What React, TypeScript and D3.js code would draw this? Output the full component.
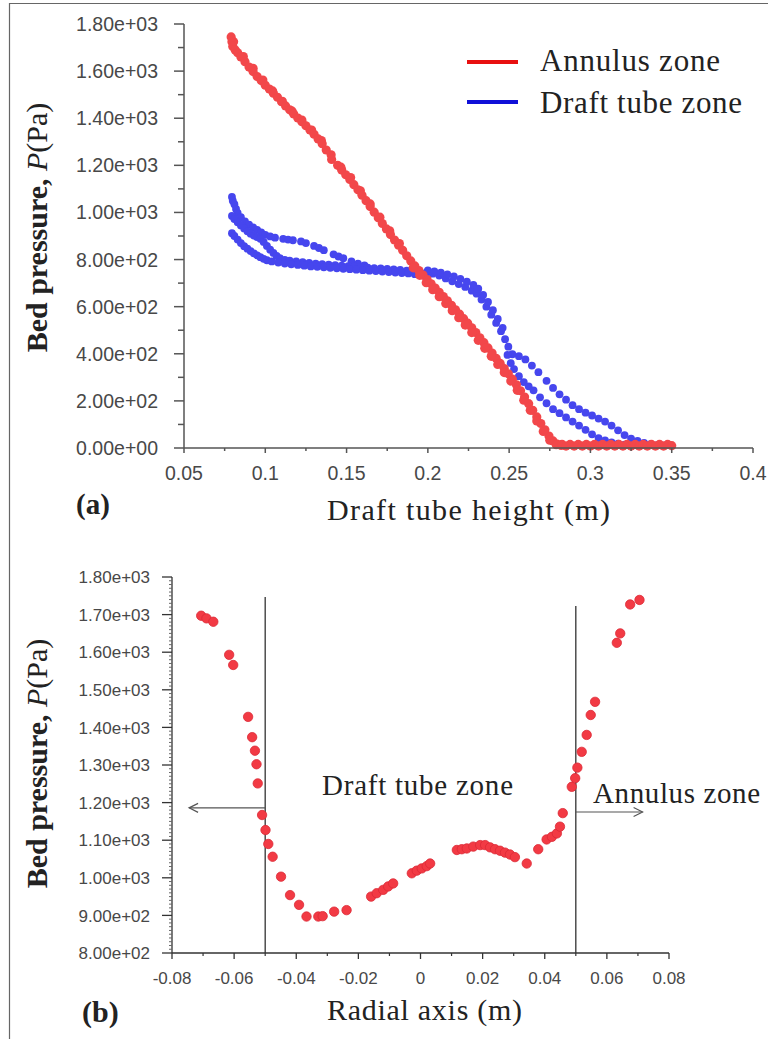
import React from "react";
import * as d3 from "d3";

// ---------- Panel (a) data ----------
const topXTicks = [0.05, 0.1, 0.15, 0.2, 0.25, 0.3, 0.35, 0.4];
const topXTickLabels = ["0.05", "0.1", "0.15", "0.2", "0.25", "0.3", "0.35", "0.4"];
const topYTicks = [0, 200, 400, 600, 800, 1000, 1200, 1400, 1600, 1800];
const topYTickLabels = ["0.00e+00", "2.00e+02", "4.00e+02", "6.00e+02", "8.00e+02", "1.00e+03", "1.20e+03", "1.40e+03", "1.60e+03", "1.80e+03"];

const legendItems = ["Annulus zone", "Draft tube zone"];

// Annulus zone (red) – main track
const annulusMain: [number, number][] = [
  [0.079, 1745], [0.0795, 1725], [0.08, 1705], [0.0815, 1690], [0.083, 1678], [0.085, 1660], [0.0875, 1640], [0.09, 1617],
  [0.0925, 1598], [0.095, 1577], [0.0975, 1560], [0.1, 1540], [0.1025, 1524], [0.105, 1506], [0.1075, 1489], [0.11, 1470],
  [0.1125, 1452], [0.115, 1436], [0.1175, 1418], [0.12, 1401], [0.1225, 1385], [0.125, 1368], [0.1275, 1350], [0.13, 1332],
  [0.1325, 1312], [0.135, 1292], [0.1375, 1265], [0.1408, 1225], [0.1445, 1200], [0.147, 1180], [0.1495, 1160], [0.152, 1140],
  [0.1545, 1118], [0.157, 1096], [0.1595, 1073], [0.162, 1050], [0.1645, 1025], [0.167, 1001], [0.1695, 977], [0.172, 953],
  [0.1745, 930], [0.177, 906], [0.1795, 883], [0.182, 861], [0.1845, 839], [0.187, 816], [0.1895, 794], [0.192, 773],
  [0.1945, 753], [0.197, 734], [0.1995, 715], [0.202, 697], [0.2045, 679], [0.207, 661], [0.2095, 643], [0.212, 625],
  [0.2145, 606], [0.217, 587], [0.2195, 568], [0.222, 549], [0.2245, 530], [0.227, 510], [0.2295, 490], [0.232, 468],
  [0.2345, 447], [0.237, 425], [0.2395, 403], [0.242, 381], [0.2445, 359], [0.247, 337], [0.2495, 315], [0.252, 292],
  [0.2545, 268], [0.257, 243], [0.2595, 216], [0.262, 188], [0.2645, 160], [0.267, 132], [0.2695, 104], [0.272, 77],
  [0.2745, 51], [0.277, 30], [0.2795, 17], [0.282, 11],
];
// Annulus zone (red) – upper parallel track (band thickness)
const annulusUpper: [number, number][] = [
  [0.0805, 1725], [0.0865, 1662], [0.0925, 1612], [0.0985, 1562], [0.1045, 1516], [0.1105, 1472], [0.1165, 1430],
  [0.1225, 1392], [0.1285, 1350], [0.1345, 1305], [0.1405, 1245], [0.1465, 1192], [0.1525, 1148], [0.1585, 1092],
  [0.1645, 1036], [0.1705, 980], [0.1765, 922], [0.1825, 868],
];
// Annulus zone (red) – lower parallel track
const annulusLower: [number, number][] = [
  [0.191, 765], [0.195, 733], [0.199, 702], [0.203, 672], [0.207, 642], [0.211, 613], [0.215, 583], [0.219, 553],
  [0.223, 522], [0.227, 490], [0.231, 457], [0.235, 423], [0.239, 389], [0.243, 355], [0.247, 320], [0.251, 284],
  [0.255, 245], [0.259, 203], [0.263, 160], [0.267, 115], [0.271, 70], [0.275, 33], [0.279, 14],
];
// Annulus zone (red) – flat tail near zero
const annulusTail: [number, number][] = [
  [0.2825, 16], [0.285, 8], [0.2875, 15], [0.29, 8], [0.2925, 15], [0.295, 8], [0.2975, 15], [0.3, 8],
  [0.3025, 15], [0.305, 8], [0.3075, 15], [0.31, 8], [0.3125, 15], [0.315, 8], [0.3175, 15], [0.32, 8],
  [0.3225, 15], [0.325, 8], [0.3275, 15], [0.33, 8], [0.3325, 15], [0.335, 8], [0.3375, 15], [0.34, 8],
  [0.3425, 15], [0.345, 8], [0.3475, 15], [0.35, 10],
];

// Draft tube zone (blue)
const draftUpper: [number, number][] = [
  [0.0795, 1066], [0.08, 1050], [0.081, 1035], [0.082, 1015], [0.083, 998], [0.085, 980], [0.0875, 962], [0.09, 948],
  [0.0925, 937], [0.095, 926], [0.0975, 915], [0.1, 905], [0.103, 898], [0.106, 893], [0.111, 888], [0.114, 885],
  [0.117, 882], [0.122, 877], [0.125, 870], [0.13, 858], [0.133, 849], [0.136, 840], [0.142, 822], [0.145, 813],
  [0.148, 806], [0.153, 792], [0.157, 783], [0.161, 775],
];
const draftMiddle: [number, number][] = [
  [0.0795, 985], [0.081, 972], [0.083, 958], [0.085, 945], [0.087, 932], [0.089, 920], [0.091, 910], [0.093, 902],
  [0.095, 895], [0.097, 888], [0.099, 875], [0.101, 858], [0.103, 842], [0.105, 828], [0.107, 815], [0.109, 806],
  [0.112, 799], [0.115, 795], [0.119, 792], [0.123, 789], [0.127, 786], [0.131, 783], [0.135, 780], [0.139, 778],
  [0.143, 776], [0.147, 774], [0.151, 772], [0.155, 770], [0.159, 768], [0.163, 766], [0.167, 764], [0.171, 762],
  [0.175, 760], [0.179, 758], [0.183, 756], [0.187, 753], [0.191, 750], [0.195, 747], [0.199, 744], [0.203, 740],
  [0.207, 732], [0.211, 720], [0.215, 708], [0.219, 696], [0.223, 684], [0.227, 668], [0.23, 655], [0.233, 630],
  [0.236, 600], [0.239, 566], [0.242, 531], [0.245, 496], [0.2475, 462], [0.2495, 430],
];
const draftLower: [number, number][] = [
  [0.0795, 912], [0.081, 900], [0.083, 885], [0.085, 870], [0.087, 857], [0.089, 846], [0.091, 836], [0.093, 826],
  [0.095, 818], [0.097, 810], [0.099, 803], [0.101, 797], [0.104, 792], [0.108, 787], [0.112, 783], [0.116, 780],
  [0.12, 777], [0.124, 774], [0.128, 771], [0.132, 769], [0.136, 767], [0.14, 765], [0.144, 763], [0.148, 761],
  [0.152, 759], [0.156, 757], [0.16, 755], [0.164, 753], [0.168, 751], [0.172, 749], [0.176, 747], [0.18, 745],
  [0.184, 743], [0.188, 741], [0.192, 738], [0.196, 735],
];
const draftBulge: [number, number][] = [
  [0.2, 754], [0.204, 750], [0.208, 744], [0.212, 737], [0.216, 728], [0.22, 718], [0.224, 706], [0.228, 692],
  [0.231, 676], [0.234, 650], [0.237, 620], [0.24, 585], [0.243, 548], [0.246, 510],
];
const draftOuter: [number, number][] = [
  [0.252, 398], [0.256, 390], [0.26, 376], [0.264, 350], [0.268, 322], [0.273, 285], [0.277, 255], [0.281, 228],
  [0.285, 205], [0.289, 182], [0.293, 165], [0.297, 150], [0.301, 138], [0.305, 125], [0.309, 112], [0.313, 95],
  [0.317, 75], [0.321, 55], [0.325, 40], [0.329, 30], [0.333, 22], [0.337, 16], [0.341, 12], [0.345, 10],
];
const draftInner: [number, number][] = [
  [0.249, 395], [0.251, 360], [0.253, 335], [0.256, 305], [0.259, 280], [0.262, 262], [0.265, 245], [0.269, 215],
  [0.273, 190], [0.277, 165], [0.281, 148], [0.285, 130], [0.289, 112], [0.293, 95], [0.297, 77], [0.301, 58],
  [0.305, 42], [0.309, 32], [0.313, 24], [0.317, 18], [0.321, 14],
];

// ---------- Panel (b) data ----------
const botXTicks = [-0.08, -0.06, -0.04, -0.02, 0, 0.02, 0.04, 0.06, 0.08];
const botXTickLabels = ["-0.08", "-0.06", "-0.04", "-0.02", "0", "0.02", "0.04", "0.06", "0.08"];
const botYTicks = [800, 900, 1000, 1100, 1200, 1300, 1400, 1500, 1600, 1700, 1800];
const botYTickLabels = ["8.00e+02", "9.00e+02", "1.00e+03", "1.10e+03", "1.20e+03", "1.30e+03", "1.40e+03", "1.50e+03", "1.60e+03", "1.70e+03", "1.80e+03"];

const radialPoints: [number, number][] = [
  [-0.0706, 1697], [-0.0689, 1690], [-0.0667, 1681], [-0.0616, 1593], [-0.0603, 1566], [-0.0555, 1428], [-0.0542, 1374],
  [-0.0533, 1338], [-0.0528, 1302], [-0.0524, 1251], [-0.051, 1167], [-0.0499, 1127], [-0.049, 1090], [-0.0476, 1056],
  [-0.0449, 1003], [-0.042, 954], [-0.0391, 928], [-0.0367, 897], [-0.0329, 897], [-0.0315, 898], [-0.0278, 910],
  [-0.0238, 914], [-0.0159, 950], [-0.0141, 959], [-0.012, 968], [-0.0104, 977], [-0.0088, 985], [-0.0028, 1012],
  [-0.0012, 1019], [0.0004, 1025], [0.002, 1031], [0.0031, 1038], [0.0117, 1074], [0.0133, 1076], [0.0149, 1078],
  [0.017, 1083], [0.0192, 1087], [0.0208, 1087], [0.0224, 1081], [0.024, 1076], [0.0256, 1072], [0.0272, 1067],
  [0.0288, 1062], [0.0304, 1055], [0.0342, 1038], [0.0379, 1076], [0.0406, 1102], [0.0423, 1109], [0.0439, 1118],
  [0.0449, 1136], [0.0458, 1172], [0.0487, 1242], [0.0498, 1265], [0.0505, 1293], [0.0519, 1335], [0.0535, 1380],
  [0.0548, 1433], [0.0562, 1468], [0.0632, 1625], [0.0643, 1650], [0.0675, 1727], [0.0705, 1739],
];
const zoneBoundaries = [-0.05, 0.05];
const zoneBoundaryTops = [1747, 1723];
const zoneArrows = [
  { from: -0.05, to: -0.0745, p: 1186 },
  { from: 0.05, to: 0.0715, p: 1175 },
];

const SERIF = "'Liberation Serif', 'Times New Roman', serif";
const SANS = "'Liberation Sans', Arial, sans-serif";
const RED = "#f2474a";
const BLUE = "#4646ee";
const AXIS = "#555";
const LABEL = "#484848";

export default function App() {
  const tx = d3.scaleLinear().domain([0.05, 0.4]).range([184, 753]);
  const ty = d3.scaleLinear().domain([0, 1800]).range([448, 24]);
  const bx = d3.scaleLinear().domain([-0.08, 0.08]).range([172, 669]);
  const by = d3.scaleLinear().domain([800, 1800]).range([953, 577]);

  const topYMinor = d3.range(100, 1800, 200);
  const topXMinor = d3.range(0.075, 0.4, 0.05);
  const botYMinor = d3.range(810, 1800, 10).filter((v) => Math.round(v) % 100 !== 0);
  const botXMinor = d3.range(-0.07, 0.08, 0.02);

  const blueSets = [draftUpper, draftMiddle, draftLower, draftBulge, draftOuter, draftInner];
  const redSets = [annulusUpper, annulusMain, annulusLower, annulusTail];

  return (
    <div style={{ position: "absolute", left: 0, top: 0 }}>
      <svg width={768} height={1039} style={{ display: "block", background: "#fff" }}>
        {/* frame */}
        <line x1={9.5} y1={3} x2={9.5} y2={1039} stroke="#666" strokeWidth={1.2} />
        <line x1={9} y1={3.5} x2={768} y2={3.5} stroke="#666" strokeWidth={1.2} />

        {/* ===== Panel (a) ===== */}
        <g>
          {blueSets.map((set, si) =>
            set.map((d, i) => (
              <circle key={`b${si}-${i}`} cx={tx(d[0])} cy={ty(d[1])} r={3.9} fill={BLUE} />
            ))
          )}
          {redSets.map((set, si) =>
            set.map((d, i) => (
              <circle key={`r${si}-${i}`} cx={tx(d[0])} cy={ty(d[1])} r={4.6} fill={RED} />
            ))
          )}
          {/* axes */}
          <line x1={tx(0.05)} y1={ty(0)} x2={tx(0.05)} y2={ty(1800)} stroke={AXIS} strokeWidth={1.5} />
          <line x1={tx(0.05)} y1={ty(0)} x2={tx(0.4)} y2={ty(0)} stroke={AXIS} strokeWidth={1.5} />
          {topYTicks.map((v, i) => (
            <g key={`ty${i}`}>
              <line x1={tx(0.05) - 10} x2={tx(0.05)} y1={ty(v)} y2={ty(v)} stroke={AXIS} strokeWidth={1.5} />
              <text x={158} y={ty(v)} dy="0.36em" textAnchor="end" fontFamily={SANS} fontSize={19.5} fill={LABEL}>
                {topYTickLabels[i]}
              </text>
            </g>
          ))}
          {topYMinor.map((v, i) => (
            <line key={`tym${i}`} x1={tx(0.05) - 6} x2={tx(0.05)} y1={ty(v)} y2={ty(v)} stroke={AXIS} strokeWidth={1.5} />
          ))}
          {topXTicks.map((v, i) => (
            <g key={`tx${i}`}>
              <line x1={tx(v)} x2={tx(v)} y1={ty(0)} y2={ty(0) + 5} stroke={AXIS} strokeWidth={1.5} />
              <text x={tx(v)} y={480} textAnchor="middle" fontFamily={SANS} fontSize={19.5} fill={LABEL}>
                {topXTickLabels[i]}
              </text>
            </g>
          ))}
          {topXMinor.map((v, i) => (
            <line key={`txm${i}`} x1={tx(v)} x2={tx(v)} y1={ty(0)} y2={ty(0) + 3} stroke={AXIS} strokeWidth={1.5} />
          ))}
          {/* legend */}
          <line x1={467} x2={518} y1={62} y2={62} stroke="#e81010" strokeWidth={4} />
          <line x1={467} x2={518} y1={102} y2={102} stroke="#1010d8" strokeWidth={4} />
          <text x={540} y={71} fontFamily={SERIF} fontSize={31} fill="#222" textLength={180}>{legendItems[0]}</text>
          <text x={540} y={113} fontFamily={SERIF} fontSize={31} fill="#222" textLength={202}>{legendItems[1]}</text>
          {/* titles */}
          <text transform="translate(47,227.5) rotate(-90)" textAnchor="middle" fontFamily={SERIF} fontSize={30} fill="#222">
            <tspan fontWeight="bold">Bed pressure, </tspan>
            <tspan fontStyle="italic">P</tspan>
            <tspan>(Pa)</tspan>
          </text>
          <text x={327} y={520} fontFamily={SERIF} fontSize={30} fill="#222" textLength={283}>Draft tube height (m)</text>
          <text x={76} y={514} fontFamily={SERIF} fontSize={29} fontWeight="bold" fill="#222">(a)</text>
        </g>

        {/* ===== Panel (b) ===== */}
        <g>
          {zoneBoundaries.map((v, i) => (
            <line key={`zb${i}`} x1={bx(v)} x2={bx(v)} y1={by(zoneBoundaryTops[i])} y2={by(800)} stroke="#333" strokeWidth={1.3} />
          ))}
          {zoneArrows.map((a, i) => {
            const x0 = bx(a.from);
            const x1 = bx(a.to);
            const y = by(a.p);
            const dir = x1 < x0 ? 1 : -1;
            return (
              <g key={`za${i}`} stroke="#555" strokeWidth={1.2} fill="none">
                <line x1={x0} x2={x1} y1={y} y2={y} />
                <polyline points={`${x1 + dir * 9},${y - 4.5} ${x1},${y} ${x1 + dir * 9},${y + 4.5}`} />
              </g>
            );
          })}
          {radialPoints.map((d, i) => (
            <circle key={`rp${i}`} cx={bx(d[0])} cy={by(d[1])} r={4.7} fill="#f23a44" stroke="#dc2a36" strokeWidth={0.8} />
          ))}
          <line x1={bx(-0.08)} y1={by(800)} x2={bx(-0.08)} y2={by(1800)} stroke="#333" strokeWidth={1.3} />
          <line x1={bx(-0.08)} y1={by(800)} x2={bx(0.08)} y2={by(800)} stroke="#333" strokeWidth={1.3} />
          {botYTicks.map((v, i) => (
            <g key={`by${i}`}>
              <line x1={bx(-0.08) - 10} x2={bx(-0.08)} y1={by(v)} y2={by(v)} stroke="#333" strokeWidth={1.3} />
              <text x={150} y={by(v)} dy="0.36em" textAnchor="end" fontFamily={SANS} fontSize={17} fill={LABEL}>
                {botYTickLabels[i]}
              </text>
            </g>
          ))}
          {botYMinor.map((v, i) => (
            <line key={`bym${i}`} x1={bx(-0.08) - 3} x2={bx(-0.08)} y1={by(v)} y2={by(v)} stroke="#666" strokeWidth={1} />
          ))}
          {botXTicks.map((v, i) => (
            <g key={`bx${i}`}>
              <line x1={bx(v)} x2={bx(v)} y1={by(800)} y2={by(800) + 6} stroke="#333" strokeWidth={1.3} />
              <text x={bx(v)} y={984} textAnchor="middle" fontFamily={SANS} fontSize={17} fill={LABEL}>
                {botXTickLabels[i]}
              </text>
            </g>
          ))}
          {botXMinor.map((v, i) => (
            <line key={`bxm${i}`} x1={bx(v)} x2={bx(v)} y1={by(800)} y2={by(800) + 3} stroke="#333" strokeWidth={1.2} />
          ))}
          <text x={322} y={795} fontFamily={SERIF} fontSize={29} fill="#222" textLength={191}>Draft tube zone</text>
          <text x={593} y={803} fontFamily={SERIF} fontSize={29} fill="#222" textLength={167}>Annulus zone</text>
          <text transform="translate(47,763.5) rotate(-90)" textAnchor="middle" fontFamily={SERIF} fontSize={30} fill="#222">
            <tspan fontWeight="bold">Bed pressure, </tspan>
            <tspan fontStyle="italic">P</tspan>
            <tspan>(Pa)</tspan>
          </text>
          <text x={327} y={1020} fontFamily={SERIF} fontSize={30} fill="#222" textLength={195}>Radial axis (m)</text>
          <text x={82} y={1022} fontFamily={SERIF} fontSize={30} fontWeight="bold" fill="#222">(b)</text>
        </g>
      </svg>
    </div>
  );
}
